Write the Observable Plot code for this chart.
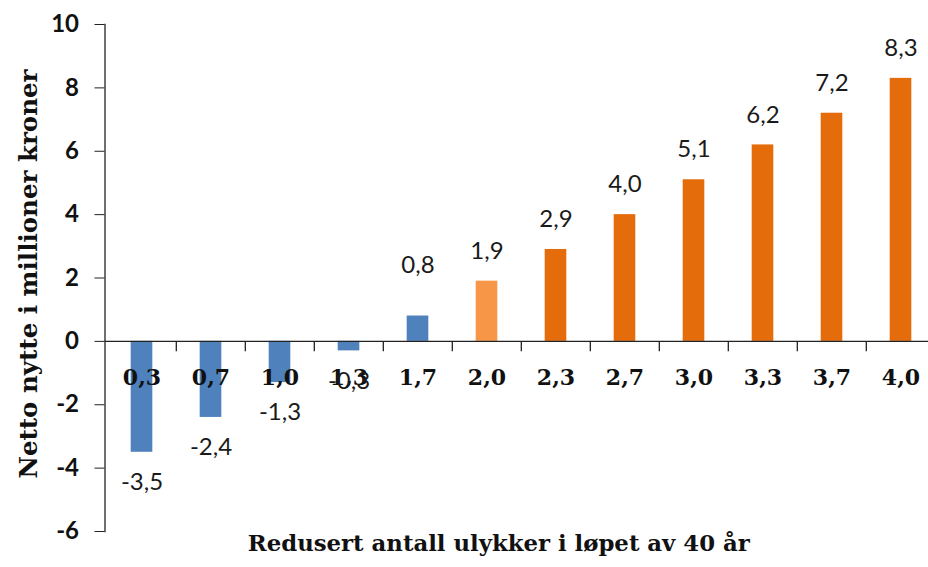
<!DOCTYPE html>
<html>
<head>
<meta charset="utf-8">
<script src="https://cdn.jsdelivr.net/npm/d3@7"></script>
<script src="https://cdn.jsdelivr.net/npm/@observablehq/plot@0.6"></script>
<style>
  body { margin: 0; background: #fff; }
  #chart svg { display: block; }
</style>
</head>
<body>
<div id="chart"></div>
<script>
// Reduced number of accidents over 40 years (category) and net benefit in MNOK
const categories = ["0,3", "0,7", "1,0", "1,3", "1,7", "2,0", "2,3", "2,7", "3,0", "3,3", "3,7", "4,0"];
const values = [-3.5, -2.4, -1.3, -0.3, 0.8, 1.9, 2.9, 4.0, 5.1, 6.2, 7.2, 8.3];
const groups = ["lav", "lav", "lav", "lav", "lav", "terskel", "høy", "høy", "høy", "høy", "høy", "høy"];
const groupNames = ["lav", "terskel", "høy"];
const yTicks = [-6, -4, -2, 0, 2, 4, 6, 8, 10];
const yTitle = "Netto nytte i millioner kroner";
const xTitle = "Redusert antall ulykker i løpet av 40 år";

const data = categories.map((c, i) => ({category: c, value: values[i], group: groups[i], index: i}));
const fmt = v => v.toFixed(1).replace(".", ",");

const W = 928, H = 567;
const left = 104.5, right = 937;
const step = (right - left) / categories.length;
const barWidth = 22;
const inset = (step - barWidth) / 2;

const serif = "'DejaVu Serif', serif";
const sans = "Lato, 'Open Sans', sans-serif";

// The 0,8 label sits a little higher than the others
const raised = d => d.index === 4;

const chart = Plot.plot({
  width: W,
  height: H,
  marginLeft: left,
  marginRight: 0,
  marginTop: 24,
  marginBottom: 36,
  style: {background: "#fff", color: "#1a1a1a", overflow: "hidden"},
  x: {type: "band", domain: categories, range: [left, right], padding: 0, axis: null},
  y: {domain: [-6, 10], axis: null},
  color: {domain: groupNames, range: ["#4f81bd", "#f79646", "#e46c0a"]},
  marks: [
    Plot.barY(data, {x: "category", y: "value", fill: "group", insetLeft: inset, insetRight: inset}),
    Plot.axisY({
      ticks: yTicks,
      tickSize: 10,
      tickPadding: 16,
      tickFormat: d => String(d),
      stroke: "#222",
      fill: "#111",
      fontFamily: sans,
      fontWeight: "bold",
      fontSize: 24,
      label: null
    }),
    Plot.frame({anchor: "left", stroke: "#222", strokeWidth: 1.3}),
    Plot.ruleY([0], {stroke: "#222", strokeWidth: 1.3}),
    Plot.ruleX(categories.slice(1), {x: d => d, y1: 0, y2: -0.33, dx: -step / 2, stroke: "#222", strokeWidth: 1.3}),
    // category labels under the zero line
    Plot.text(categories, {
      x: d => d, y: 0, dy: 37,
      fontFamily: serif, fontWeight: "bold", fontSize: 22, fill: "#111"
    }),
    // value labels
    Plot.text(data.filter(d => d.value >= 0 && !raised(d)), {
      x: "category", y: "value", text: d => fmt(d.value), dy: -30,
      fontFamily: sans, fontSize: 24, fill: "#1a1a1a"
    }),
    Plot.text(data.filter(raised), {
      x: "category", y: "value", text: d => fmt(d.value), dy: -51,
      fontFamily: sans, fontSize: 24, fill: "#1a1a1a"
    }),
    Plot.text(data.filter(d => d.value < 0), {
      x: "category", y: "value", text: d => fmt(d.value), dy: 30,
      fontFamily: sans, fontSize: 24, fill: "#1a1a1a"
    }),
    // axis titles
    Plot.text([yTitle], {
      frameAnchor: "left", textAnchor: "middle", rotate: -90, dx: -76, dy: -4,
      fontFamily: serif, fontWeight: "bold", fontSize: 24.5, fill: "#111"
    }),
    Plot.text([xTitle], {
      frameAnchor: "bottom", dx: -18, dy: 19,
      fontFamily: serif, fontWeight: "bold", fontSize: 22.8, fill: "#111"
    })
  ]
});

document.getElementById("chart").append(chart);
</script>
</body>
</html>
